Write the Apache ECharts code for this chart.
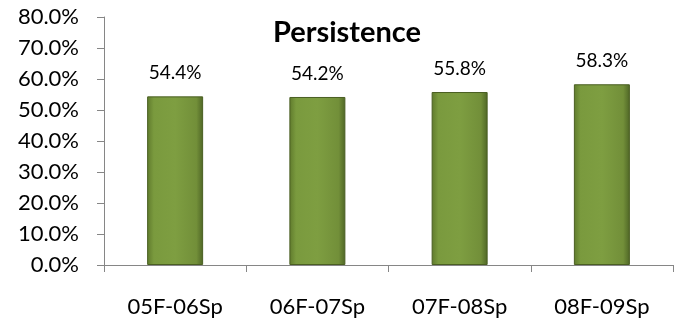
<!DOCTYPE html>
<html>
<head>
<meta charset="utf-8">
<script src="https://cdn.jsdelivr.net/npm/echarts@6/dist/echarts.min.js"></script>
<style>
  html, body { margin: 0; padding: 0; background: #fff; }
  #chart { width: 681px; height: 326px; }
</style>
</head>
<body>
<div id="chart"></div>
<script>
// 数据
const categories = ['05F-06Sp', '06F-07Sp', '07F-08Sp', '08F-09Sp']
const persistence = [54.4, 54.2, 55.8, 58.3]
const yTicks = { min: 0, max: 80, interval: 10 }

const font = 'Lato, "Open Sans", sans-serif'
const myChart = echarts.init(document.getElementById('chart'))
myChart.setOption({
  animation: false,
  title: {
    text: 'Persistence',
    left: 342,
    top: 13,
    textAlign: 'center',
    textStyle: { fontFamily: font, fontSize: 29, fontWeight: 'bold', color: '#000' }
  },
  grid: { left: 104, right: 8, top: 17, bottom: 61 },
  xAxis: {
    type: 'category',
    data: categories,
    axisLine: { lineStyle: { color: '#868686' } },
    axisTick: { show: true, length: 7, lineStyle: { color: '#868686' } },
    axisLabel: { margin: 31, fontFamily: font, fontSize: 22, color: '#000' }
  },
  yAxis: {
    type: 'value',
    min: yTicks.min,
    max: yTicks.max,
    interval: yTicks.interval,
    splitLine: { show: false },
    axisLine: { show: true, lineStyle: { color: '#868686' } },
    axisTick: { show: true, inside: false, length: 7, lineStyle: { color: '#868686' } },
    axisLabel: {
      margin: 25,
      fontFamily: font,
      fontSize: 22,
      color: '#000',
      formatter: v => v.toFixed(1) + '%'
    }
  },
  series: [
    {
      type: 'bar',
      data: persistence,
      barWidth: 56,
      itemStyle: {
        color: new echarts.graphic.LinearGradient(0, 0, 1, 0, [
          { offset: 0, color: '#5f7a2c' },
          { offset: 0.12, color: '#7a9a3e' },
          { offset: 0.5, color: '#7e9e41' },
          { offset: 0.88, color: '#728f39' },
          { offset: 1, color: '#4f6626' }
        ]),
        borderColor: '#4a5f22',
        borderWidth: 1
      },
      label: {
        show: true,
        position: 'top',
        distance: 14,
        fontFamily: font,
        fontSize: 19,
        color: '#000',
        formatter: p => p.value.toFixed(1) + '%'
      }
    }
  ]
})
</script>
</body>
</html>
